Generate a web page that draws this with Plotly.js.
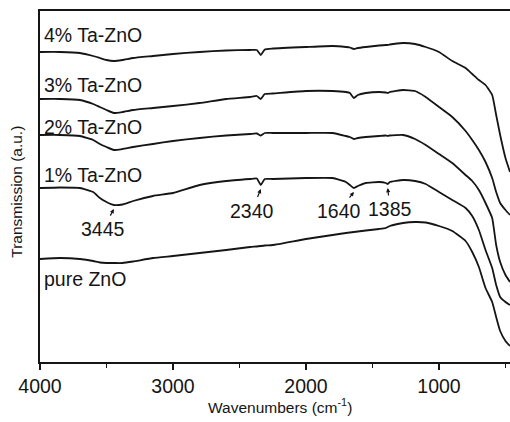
<!DOCTYPE html>
<html>
<head>
<meta charset="utf-8">
<script src="https://cdn.plot.ly/plotly-3.0.1.min.js"></script>
<style>
html,body{margin:0;padding:0;background:#fff;}
#chart{width:510px;height:422px;}
</style>
</head>
<body>
<div id="chart"></div>
<script>
// Wavenumbers (cm^-1) shared by all spectra
const wavenumbers = [4000, 3850, 3700, 3600, 3550, 3500, 3445, 3380, 3300, 3150, 3000, 2800, 2600, 2420, 2370, 2340, 2310, 2250, 2000, 1800, 1700, 1670, 1640, 1610, 1550, 1450, 1400, 1385, 1370, 1270, 1180, 1100, 1000, 900, 800, 750, 700, 650, 600, 570, 540, 500, 466];

// Transmission (a.u., offset stacked spectra)
const ta4 = [310, 310, 309, 306, 304, 302, 301, 302, 304, 306, 308, 310, 311.5, 312, 312, 307, 312.5, 313.5, 315, 316, 315, 314.5, 313, 314, 315, 316.5, 317, 317, 317.5, 319, 318, 315, 310, 301, 294, 288, 282, 277, 267, 247, 227, 204, 190];
const ta3 = [263, 263, 262, 258, 255, 252, 249, 250, 252, 254, 256, 259, 263, 265, 266, 263, 268, 268.5, 271, 271, 270, 269, 264, 267, 269, 270, 269.5, 269, 270, 272, 271, 265, 255, 245, 231, 222, 212, 200, 184, 170, 159, 152, 147];
const ta2 = [227, 227, 226, 222, 218, 215, 212, 213, 215, 218, 221, 224, 226.5, 228, 228.5, 226.5, 229, 229, 229, 229, 226, 225, 223, 224, 225, 226, 226.5, 226, 226.5, 227, 223, 217, 208, 199, 187, 181, 172, 159, 144, 117, 100, 87, 80];
const ta1 = [174, 174.5, 174, 170, 164, 160, 157, 157.5, 161, 166, 169, 177, 181, 183, 183.5, 177, 183, 183, 184, 184, 180, 177, 174, 176, 179, 180, 179, 178, 180, 182, 181, 178, 170, 162, 154, 146, 132, 112, 94, 77, 65, 60, 57];
const pure = [103, 104, 103, 101, 99.5, 99, 99, 99, 100.5, 104, 106, 109, 112, 115, 115.5, 116, 116.5, 117, 123, 127, 129, 129.5, 130, 130.5, 131.5, 133, 134, 135, 136, 139, 140, 139.5, 136, 131, 121, 110, 95, 74, 60, 45, 31, 21, 16];

const seriesNames = ["4% Ta-ZnO", "3% Ta-ZnO", "2% Ta-ZnO", "1% Ta-ZnO", "pure ZnO"];
const seriesValues = [ta4, ta3, ta2, ta1, pure];

// Marked absorption bands (on the 1% Ta-ZnO spectrum)
const peakPositions = [3445, 2340, 1640, 1385];
const peakLabels = ["3445", "2340", "1640", "1385"];

const xTickVals = [4000, 3000, 2000, 1000];
const xTickText = ["4000", "3000", "2000", "1000"];

const FONT = "Arial, 'Liberation Sans', sans-serif";
const INK = "#151515";

const traces = seriesValues.map((v, i) => ({
  x: wavenumbers, y: v, name: seriesNames[i], type: "scatter", mode: "lines",
  line: {color: INK, width: 1.8, shape: "spline", smoothing: 0.4},
  hoverinfo: "skip", showlegend: false
}));

function valueAt(series, wn) {
  const i = wavenumbers.indexOf(wn);
  if (i >= 0) return series[i];
  for (let k = 0; k < wavenumbers.length - 1; k++) {
    const a = wavenumbers[k], b = wavenumbers[k + 1];
    if (wn <= a && wn >= b) {
      const t = (a - wn) / (a - b);
      return series[k] + t * (series[k + 1] - series[k]);
    }
  }
  return series[0];
}

const annotations = [];
// series labels (placed at the left edge, relative to each spectrum's start)
const labelOffsets = [17, 14, 8, 13, -20];
seriesNames.forEach((n, i) => {
  annotations.push({
    xref: "paper", yref: "y", x: 0.004, y: seriesValues[i][0] + labelOffsets[i],
    text: n, showarrow: false, xanchor: "left", yanchor: "middle",
    font: {family: FONT, size: 19.5, color: INK}
  });
});
// peak labels with arrows
const arrowOffsets = [[-10.5, 20], [-8.5, 21.5], [-14.5, 19], [2, 21]];
peakPositions.forEach((p, i) => {
  annotations.push({
    xref: "x", yref: "y", x: p, y: valueAt(ta1, p) - 4,
    text: peakLabels[i], showarrow: true, arrowhead: 2, arrowsize: 0.7, arrowwidth: 1.2,
    arrowcolor: INK, ax: arrowOffsets[i][0], ay: arrowOffsets[i][1], standoff: 0, startstandoff: 1,
    font: {family: FONT, size: 19.5, color: INK}
  });
});
// axis titles
annotations.push({
  xref: "paper", yref: "paper", x: 0.5106, y: -0.124, xanchor: "center", yanchor: "middle",
  text: "Wavenumbers (cm<sup>-1</sup>)", showarrow: false,
  font: {family: FONT, size: 15.5, color: INK}
});
annotations.push({
  xref: "paper", yref: "paper", x: -0.049, y: 0.485, xanchor: "center", yanchor: "middle",
  text: "Transmission (a.u.)", textangle: -90, showarrow: false,
  font: {family: FONT, size: 15.5, color: INK}
});

const layout = {
  width: 510, height: 422,
  margin: {l: 40, r: 0, t: 11, b: 60, pad: 0},
  paper_bgcolor: "#fff", plot_bgcolor: "#fff",
  showlegend: false,
  xaxis: {
    range: [4000, 466], autorange: false,
    tickmode: "array", tickvals: xTickVals, ticktext: xTickText,
    ticks: "outside", ticklen: 6, tickwidth: 1.5, tickcolor: INK,
    minor: {dtick: 500, tick0: 0, ticks: "outside", ticklen: 4, tickwidth: 1.5, tickcolor: INK, showgrid: false},
    showline: true, linecolor: INK, linewidth: 1.6, mirror: true,
    showgrid: false, zeroline: false,
    tickfont: {family: FONT, size: 19.5, color: INK}
  },
  yaxis: {
    range: [0, 351], autorange: false,
    showticklabels: false, ticks: "",
    showline: true, linecolor: INK, linewidth: 1.6, mirror: false,
    showgrid: false, zeroline: false
  },
  annotations: annotations
};

Plotly.newPlot("chart", traces, layout, {staticPlot: true, displayModeBar: false});
</script>
</body>
</html>
